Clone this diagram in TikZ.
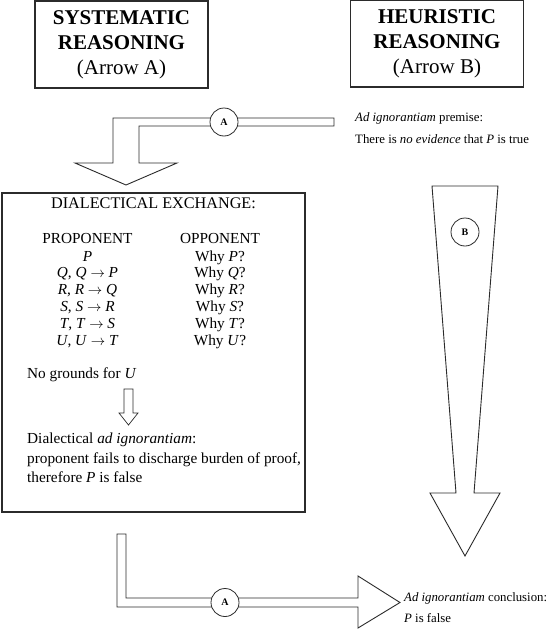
\documentclass[tikz,border=0pt]{standalone}
\usepackage{fontspec}
\setmainfont{Liberation Serif}
\usepackage{tikz}
\usetikzlibrary{arrows.meta,positioning,calc}
\definecolor{xline}{HTML}{2B2B2B}

\begin{document}
\begin{tikzpicture}[
    x=1pt, y=-1pt,
    titlebox/.style={rectangle, draw=xline, line width=1.1pt, minimum width=173pt, minimum height=87pt, align=center, font=\fontsize{21}{25}\selectfont},
    badge/.style={circle, draw=xline, line width=0.8pt, fill=white, minimum size=28pt, inner sep=0pt, font=\fontsize{10}{10}\selectfont\bfseries},
    blockarrow/.style={draw=xline, line width=0.9pt, fill=white, line join=miter},
    bodytxt/.style={inner sep=0pt, text height=10.5pt, text depth=3.5pt, font=\fontsize{15.3}{18}\selectfont},
    sidetxt/.style={inner sep=0pt, anchor=west, text height=9pt, text depth=3pt, font=\fontsize{12.8}{15}\selectfont},
]
\useasboundingbox (0,0) rectangle (553,637);

% Title boxes
\node[titlebox] (sysbox) at (121.5,44.5) {\textbf{SYSTEMATIC}\\\textbf{REASONING}\\(Arrow A)};
\node[titlebox] (heurbox) at (437,43.5) {\textbf{HEURISTIC}\\\textbf{REASONING}\\(Arrow B)};

% Premise
\node[sidetxt] (premise) at (355,118) {\textit{Ad ignorantiam} premise:};
\node[sidetxt] (noevid) at (355,140) {There is \textit{no evidence} that \textit{P} is true};

% Arrow A, top part
\draw[blockarrow] (334,118) -- (113,118) -- (113,163) -- (75,163) -- (126,185) -- (177,163) -- (139,163) -- (139,126) -- (334,126) -- cycle;
\node[badge] (atop) at (224,122) {A};

% Dialectical exchange
\node[rectangle, draw=xline, line width=1.1pt, minimum width=303pt, minimum height=319pt] (exch) at (153.5,352.5) {};
\node[bodytxt, font=\fontsize{16.2}{18}\selectfont] (exchhead) at (153.5,205) {DIALECTICAL EXCHANGE:};
\node[bodytxt] (pro) at (87.5,240) {PROPONENT};
\node[bodytxt] (opp) at (220,240) {OPPONENT};
\foreach \cl/\stmt [count=\i from 0] in {P/\textit{P}, Q/{\textit{Q}, \textit{Q} $\rightarrow$ \textit{P}}, R/{\textit{R}, \textit{R} $\rightarrow$ \textit{Q}}, S/{\textit{S}, \textit{S} $\rightarrow$ \textit{R}}, T/{\textit{T}, \textit{T} $\rightarrow$ \textit{S}}, U/{\textit{U}, \textit{U} $\rightarrow$ \textit{T}}}{
  \node[bodytxt] (pro\cl) at (87.5,257.5+16.8*\i) {\stmt};
  \node[bodytxt] (opp\cl) at (220,257.5+16.8*\i) {Why \textit{\cl}?};
}
\node[bodytxt, anchor=west] (nogrounds) at (27,375) {No grounds for \textit{U}};
\draw[blockarrow, line width=0.7pt] (124,389) -- (133,389) -- (133,413) -- (138,413) -- (128.5,425) -- (119,413) -- (124,413) -- cycle;
\node[bodytxt, anchor=west] (dialign) at (27,440) {Dialectical \textit{ad ignorantiam}:};
\node[bodytxt, anchor=west] (fails) at (27,460) {proponent fails to discharge burden of proof,};
\node[bodytxt, anchor=west] (therefore) at (27,479) {therefore \textit{P} is false};

% Arrow B
\draw[blockarrow] (432,186) -- (498,186) -- (474,493) -- (500,493) -- (465,556) -- (430,493) -- (456,493) -- cycle;
\node[badge] (bmark) at (465,232) {B};

% Arrow A, bottom part
\draw[blockarrow] (117,534) -- (126,534) -- (126,598) -- (358,598) -- (358,576) -- (400,602.5) -- (358,628) -- (358,607) -- (117,607) -- cycle;
\node[badge] (abot) at (225,602.5) {A};

% Conclusion
\node[sidetxt] (concl) at (404,598) {\textit{Ad ignorantiam} conclusion:};
\node[sidetxt] (pfalse) at (404,619) {\textit{P} is false};

\end{tikzpicture}
\end{document}
